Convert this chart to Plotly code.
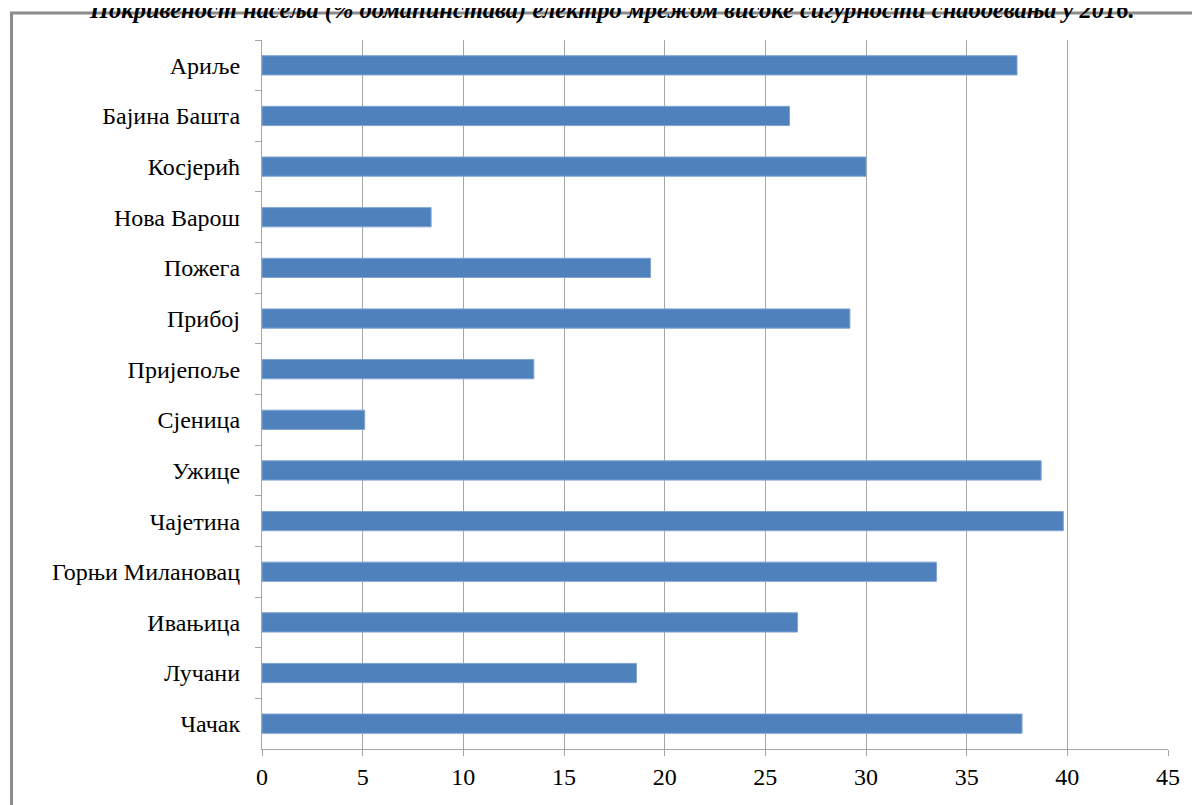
import plotly.graph_objects as go

categories = ["Ариље", "Бајина Башта", "Косјерић", "Нова Варош", "Пожега", "Прибој",
              "Пријепоље", "Сјеница", "Ужице", "Чајетина", "Горњи Милановац",
              "Ивањица", "Лучани", "Чачак"]
values = [37.5, 26.2, 30.0, 8.4, 19.3, 29.2, 13.5, 5.1, 38.7, 39.8, 33.5, 26.6, 18.6, 37.75]
x_ticks = [0, 5, 10, 15, 20, 25, 30, 35, 40, 45]
title_text = "Покривеност насеља (% домаћинстава) електро мрежом високе сигурности снабдевања у 2016."

# page body adds an 8px offset; figure coordinates compensate for it
OFF = 8
W, H = 1200, 805
ML, MR, MT, MB = 262 - OFF, W - (1168 - OFF), 40 - OFF, H - (749 - OFF)
PW, PH = W - ML - MR, H - MT - MB

def px_x(p):  # page pixel -> paper
    return (p - OFF - ML) / PW

def px_y(p):
    return (H - MB - (p - OFF)) / PH

fig = go.Figure(go.Bar(
    x=values, y=categories, orientation="h",
    marker=dict(color="#4F81BD", line=dict(color="#7FA3D3", width=1)),
    width=0.38,
))

font_serif = "Liberation Serif, Times New Roman, serif"

fig.update_layout(
    width=W, height=H,
    margin=dict(l=ML, r=MR, t=MT, b=MB, autoexpand=False),
    plot_bgcolor="white", paper_bgcolor="white",
    showlegend=False,
    xaxis=dict(range=[0, 45], tickvals=x_ticks, showgrid=True, gridcolor="#A6A6A6", gridwidth=1.3,
               zeroline=False, showline=True, linecolor="#A6A6A6", linewidth=1.3,
               ticks="outside", ticklen=6, tickcolor="#A6A6A6", automargin=False,
               tickfont=dict(family=font_serif, size=24, color="black"), fixedrange=True),
    yaxis=dict(autorange="reversed", showgrid=False, showline=True, linecolor="#A6A6A6", linewidth=1.3,
               ticks="outside", ticklen=6, tickcolor="#A6A6A6", tickson="boundaries", automargin=False,
               ticklabelstandoff=16,
               tickfont=dict(family=font_serif, size=24, color="black")),
    shapes=[dict(type="rect", xref="paper", yref="paper",
                 x0=px_x(11.5), x1=px_x(1270), y0=px_y(870), y1=px_y(13),
                 line=dict(color="#8C8C8C", width=3), fillcolor="rgba(0,0,0,0)", layer="below")],
    annotations=[dict(text="<b><i>" + title_text + "</i></b>", xref="paper", yref="paper",
                      x=px_x(612), y=px_y(26), xanchor="center", yanchor="bottom",
                      showarrow=False, font=dict(family=font_serif, size=24.5, color="black"))],
)

fig.write_html("out.html")
